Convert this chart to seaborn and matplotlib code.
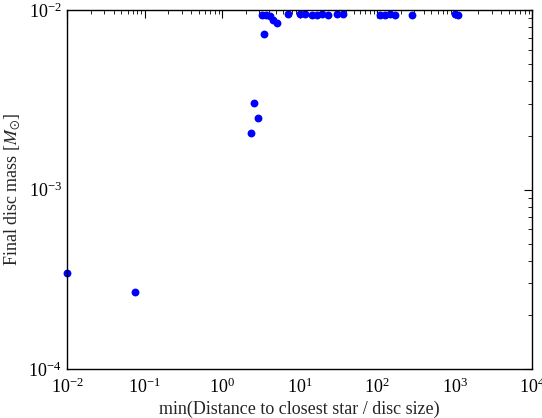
import matplotlib
matplotlib.use("Agg")
import matplotlib.pyplot as plt
import seaborn as sns
import pandas as pd

# Minimum ratio of closest-star distance to disc size, and final disc mass
min_ratio = [0.01, 0.075, 2.37, 2.59, 2.91, 3.48,
             3.28, 3.70, 4.16, 4.55, 5.13, 7.11, 10.1, 11.8, 14.5, 16.8,
             19.5, 23.3, 30.5, 36.4, 109, 127, 147, 171, 283, 1014, 1110]
final_mass = [3.43e-4, 2.69e-4, 2.06e-3, 3.03e-3, 2.5e-3, 7.4e-3,
              9.35e-3, 9.35e-3, 9.3e-3, 8.8e-3, 8.5e-3, 9.45e-3, 9.45e-3, 9.45e-3, 9.4e-3, 9.4e-3,
              9.45e-3, 9.4e-3, 9.45e-3, 9.45e-3, 9.4e-3, 9.4e-3, 9.45e-3, 9.4e-3, 9.4e-3, 9.45e-3, 9.4e-3]

df = pd.DataFrame({"ratio": min_ratio, "mass": final_mass})

sns.set_style("white")
plt.rcParams["font.family"] = ["Liberation Serif", "DejaVu Serif"]
plt.rcParams["mathtext.fontset"] = "stix"

fig = plt.figure(figsize=(5.42, 4.18), dpi=100)
ax = fig.add_axes([0.124, 0.117, 0.858, 0.859])

sns.scatterplot(data=df, x="ratio", y="mass", ax=ax, color="#0000ff",
                s=32, linewidth=0, clip_on=False, legend=False)

ax.set_xscale("log")
ax.set_yscale("log")
ax.set_xlim(1e-2, 1e4)
ax.set_ylim(1e-4, 1e-2)

for side in ax.spines.values():
    side.set_color("black")
    side.set_linewidth(1.0)

ax.tick_params(which="both", direction="in", top=True, right=True,
               labelsize=13, colors="black")
ax.tick_params(axis="x", which="major", pad=6)
ax.tick_params(axis="y", which="major", pad=4)
ax.tick_params(which="major", length=6, width=0.8)
ax.tick_params(which="minor", length=3, width=0.6)

ax.set_xlabel("min(Distance to closest star / disc size)", fontsize=13)
ax.set_ylabel(r"Final disc mass [$M_{\odot}$]", fontsize=13)
ax.xaxis.set_label_coords(0.5, -0.088)
ax.yaxis.set_label_coords(-0.098, 0.5)

fig.savefig("out.png", dpi=100)
